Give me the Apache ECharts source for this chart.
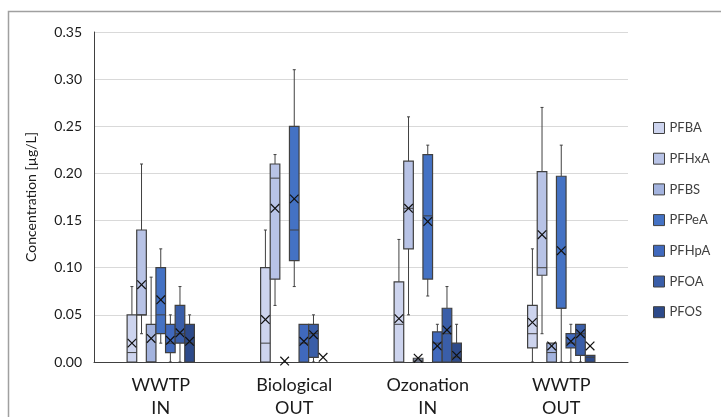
<!DOCTYPE html>
<html lang="en">
<head>
    <meta charset="UTF-8">
    <title>PFAS concentration box plot</title>
    <script src="https://cdn.jsdelivr.net/npm/echarts@6.0.0/dist/echarts.min.js"></script>
</head>
<body style="margin:0;background:#fff;">
    <div id="chart" style="width: 721px; height: 417px;"></div>
    <script>
        var myChart = echarts.init(document.getElementById('chart'));

        // sampling points
        const categories = ['WWTP\nIN', 'Biological\nOUT', 'Ozonation\nIN', 'WWTP\nOUT'];
        const compounds = ['PFBA', 'PFHxA', 'PFBS', 'PFPeA', 'PFHpA', 'PFOA', 'PFOS'];
        const colors = ['#cdd4ee', '#b8c3e6', '#a3b3de', '#4472c4', '#4069bd', '#3a5ea8', '#2d4a8a'];

        // each entry: [min, q1, median, q3, max, mean] per sampling point
        const pfba  = [[0, 0, 0.01, 0.05, 0.08, 0.02], [0, 0, 0.02, 0.10, 0.14, 0.045], [0, 0, 0.04, 0.085, 0.13, 0.046], [0, 0.015, 0.03, 0.06, 0.12, 0.042]];
        const pfhxa = [[0.03, 0.05, 0.05, 0.14, 0.21, 0.082], [0.06, 0.088, 0.195, 0.21, 0.22, 0.163], [0.05, 0.12, 0.163, 0.213, 0.26, 0.163], [0.03, 0.092, 0.10, 0.202, 0.27, 0.135]];
        const pfbs  = [[0, 0, 0, 0.04, 0.09, 0.025], [0, 0, 0, 0, 0, 0.001], [0, 0, 0.002, 0.004, 0.004, 0.004], [0, 0, 0.01, 0.02, 0.02, 0.017]];
        const pfpea = [[0.02, 0.03, 0.05, 0.10, 0.12, 0.066], [0.08, 0.1075, 0.14, 0.25, 0.31, 0.173], [0.07, 0.088, 0.155, 0.22, 0.23, 0.149], [0, 0.057, 0.057, 0.197, 0.23, 0.118]];
        const pfhpa = [[0, 0.01, 0.02, 0.04, 0.05, 0.023], [0, 0, 0.02, 0.04, 0.04, 0.022], [0, 0, 0.02, 0.032, 0.04, 0.017], [0, 0.015, 0.02, 0.03, 0.04, 0.022]];
        const pfoa  = [[0, 0.02, 0.03, 0.06, 0.08, 0.031], [0, 0.005, 0.03, 0.04, 0.05, 0.029], [0, 0, 0.03, 0.057, 0.08, 0.034], [0, 0.007, 0.03, 0.04, 0.04, 0.03]];
        const pfos  = [[0, 0, 0.02, 0.04, 0.05, 0.022], [0, 0, 0, 0, 0, 0.005], [0, 0, 0.005, 0.02, 0.04, 0.007], [0, 0, 0.005, 0.007, 0.007, 0.017]];

        const allStats = [pfba, pfhxa, pfbs, pfpea, pfhpa, pfoa, pfos];

        const lineColor = '#404040';

        // draws box, whiskers, median and mean cross for one compound at one point
        function renderBox(params, api) {
            const idx = params.seriesIndex;
            const cat = api.value(0);
            const band = api.size([1, 0])[0];
            const w = band * 0.072;
            const center = api.coord([cat, 0])[0];
            const x0 = center + (idx - 3.5) * w;
            const cx = x0 + w / 2;
            const y = v => api.coord([cat, v])[1];
            const yMin = y(api.value(1)), yQ1 = y(api.value(2)), yMed = y(api.value(3));
            const yQ3 = y(api.value(4)), yMax = y(api.value(5)), yMean = y(api.value(6));
            const ln = { stroke: lineColor, lineWidth: 1 };
            const children = [];
            if (yMax < yQ3) {
                children.push({ type: 'line', shape: { x1: cx, y1: yQ3, x2: cx, y2: yMax }, style: ln });
                children.push({ type: 'line', shape: { x1: cx - 1.5, y1: yMax, x2: cx + 1.5, y2: yMax }, style: ln });
            }
            if (yMin > yQ1) {
                children.push({ type: 'line', shape: { x1: cx, y1: yQ1, x2: cx, y2: yMin }, style: ln });
                children.push({ type: 'line', shape: { x1: cx - 1.5, y1: yMin, x2: cx + 1.5, y2: yMin }, style: ln });
            }
            if (yQ1 - yQ3 > 0.5) {
                children.push({
                    type: 'rect',
                    shape: { x: x0, y: yQ3, width: w, height: yQ1 - yQ3 },
                    style: { fill: api.visual('color'), stroke: lineColor, lineWidth: 1.2 }
                });
                children.push({ type: 'line', shape: { x1: x0, y1: yMed, x2: x0 + w, y2: yMed }, style: ln });
            }
            const m = 4.3;
            children.push({ type: 'line', shape: { x1: cx - m, y1: yMean - m, x2: cx + m, y2: yMean + m }, style: { stroke: '#111', lineWidth: 1.2 } });
            children.push({ type: 'line', shape: { x1: cx - m, y1: yMean + m, x2: cx + m, y2: yMean - m }, style: { stroke: '#111', lineWidth: 1.2 } });
            return { type: 'group', children: children };
        }

        const series = compounds.map((name, i) => ({
            name: name,
            type: 'custom',
            renderItem: renderBox,
            itemStyle: { color: colors[i] },
            encode: { x: 0, y: [1, 2, 3, 4, 5, 6] },
            data: allStats[i].map((s, c) => [c].concat(s))
        }));

        const option = {
            animation: false,
            textStyle: { fontFamily: 'Lato, "Open Sans", sans-serif' },
            graphic: [{
                type: 'rect',
                shape: { x: 8.5, y: 11.5, width: 730, height: 430 },
                style: { fill: 'none', stroke: '#a0a0a0', lineWidth: 1.5 },
                silent: true
            }],
            grid: { left: 94, right: 93, top: 32, bottom: 55, outerBoundsMode: 'none' },
            legend: {
                orient: 'vertical',
                left: 648,
                top: 116,
                itemWidth: 11,
                itemHeight: 11,
                itemGap: 16.7,
                icon: 'rect',
                itemStyle: { borderColor: lineColor, borderWidth: 1 },
                textStyle: { fontSize: 13, lineHeight: 14, color: '#404040', fontFamily: 'Lato, sans-serif' },
                data: compounds
            },
            xAxis: {
                type: 'category',
                data: categories,
                axisLine: { lineStyle: { color: '#404040', width: 1 } },
                axisTick: { show: false },
                axisLabel: { fontSize: 18, color: '#1a1a1a', lineHeight: 23, margin: 12, interval: 0 }
            },
            yAxis: {
                type: 'value',
                min: 0,
                max: 0.35,
                interval: 0.05,
                name: 'Concentration [µg/L]',
                nameLocation: 'middle',
                nameGap: 56,
                nameTextStyle: { fontSize: 14, color: '#1a1a1a' },
                axisLine: { show: true, lineStyle: { color: '#404040' } },
                axisTick: { show: false },
                axisLabel: { fontSize: 14, color: '#1a1a1a', margin: 12, formatter: v => v.toFixed(2) },
                splitLine: { lineStyle: { color: '#d9d9d9' } }
            },
            series: series
        };

        myChart.setOption(option);
    </script>
</body>
</html>
